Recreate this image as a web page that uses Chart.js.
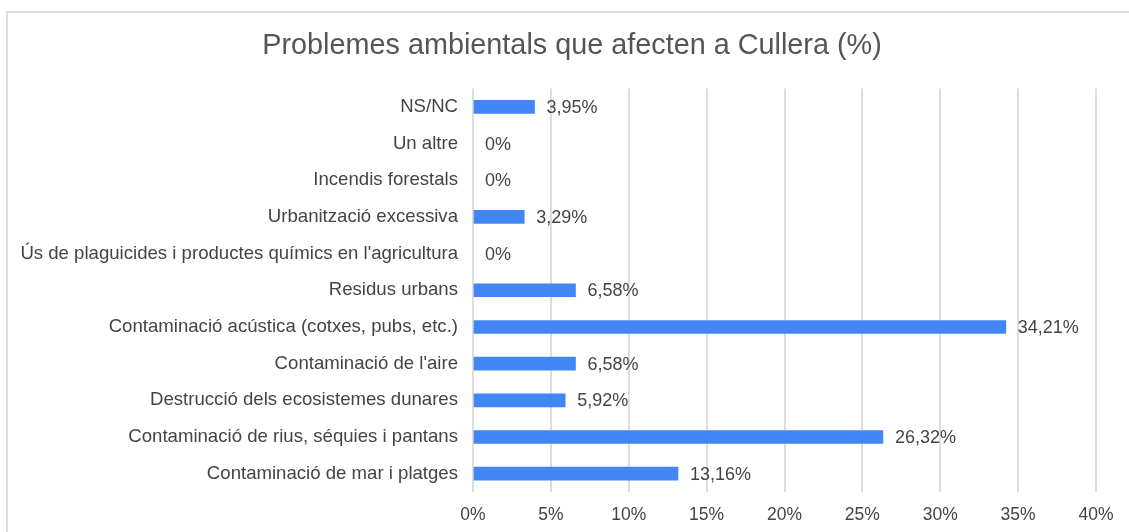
<!DOCTYPE html>
<html>
<head>
<meta charset="utf-8">
<script src="https://cdn.jsdelivr.net/npm/chart.js@4.4.1/dist/chart.umd.min.js"></script>
<style>
  html, body { margin: 0; padding: 0; background: #fff; overflow: hidden; }
  #frame { position: absolute; left: 6px; top: 11px; width: 1200px; height: 600px; border: 2px solid #dddddd; }
  #myChart { position: absolute; left: 0; top: 0; }
</style>
</head>
<body>
<div id="frame"></div>
<canvas id="myChart" width="1129" height="532"></canvas>
<script>
// chart data
var categories = [
  'NS/NC',
  'Un altre',
  'Incendis forestals',
  'Urbanització excessiva',
  "Ús de plaguicides i productes químics en l'agricultura",
  'Residus urbans',
  'Contaminació acústica (cotxes, pubs, etc.)',
  "Contaminació de l'aire",
  'Destrucció dels ecosistemes dunares',
  'Contaminació de rius, séquies i pantans',
  'Contaminació de mar i platges'
];
var values = [3.95, 0, 0, 3.29, 0, 6.58, 34.21, 6.58, 5.92, 26.32, 13.16];
var xTicks = [0, 5, 10, 15, 20, 25, 30, 35, 40];

var textColor = '#444444';
var fontFamily = '"Liberation Sans", Arial, sans-serif';

function fmt(v) {
  if (v === 0) return '0%';
  return v.toFixed(2).replace('.', ',') + '%';
}

// value labels at the end of each bar
var valueLabels = {
  id: 'valueLabels',
  afterDatasetsDraw: function (chart) {
    var ctx = chart.ctx;
    var meta = chart.getDatasetMeta(0);
    ctx.save();
    ctx.font = '18px ' + fontFamily;
    ctx.fillStyle = textColor;
    ctx.textAlign = 'left';
    ctx.textBaseline = 'middle';
    meta.data.forEach(function (bar, i) {
      ctx.fillText(fmt(values[i]), bar.x + 12, bar.y + 1);
    });
    ctx.restore();
  }
};

// title is centred on the whole frame, not on the padded area
var shiftTitle = {
  id: 'shiftTitle',
  afterLayout: function (chart) {
    var t = chart.titleBlock;
    if (t) { t.left += 24; t.right += 24; }
  }
};

var ctx = document.getElementById('myChart').getContext('2d');
new Chart(ctx, {
  type: 'bar',
  data: {
    labels: categories,
    datasets: [{
      label: 'Problemes',
      data: values,
      backgroundColor: values.map(function (v) { return v === 0 ? 'rgba(0,0,0,0)' : '#4285f4'; }),
      borderWidth: 0,
      barThickness: 13
    }]
  },
  options: {
    indexAxis: 'y',
    responsive: false,
    animation: false,
    layout: { padding: { top: 0, right: 33, bottom: 0, left: 0 } },
    plugins: {
      legend: { display: false },
      tooltip: { enabled: false },
      title: {
        display: true,
        text: 'Problemes ambientals que afecten a Cullera (%)',
        color: '#555555',
        font: { family: fontFamily, size: 28.8, weight: 'normal' },
        padding: { top: 29, bottom: 25 }
      }
    },
    scales: {
      x: {
        min: 0,
        max: 40,
        afterBuildTicks: function (s) {
          s.ticks = xTicks.map(function (v) { return { value: v }; });
        },
        afterFit: function (s) { s.height = 40; },
        border: { display: false },
        grid: { color: '#dddddd', lineWidth: 2, drawTicks: false },
        ticks: {
          padding: 13,
          color: textColor,
          font: { family: fontFamily, size: 17.5 },
          callback: function (v) { return v + '%'; }
        }
      },
      y: {
        afterFit: function (s) { s.width = 473; },
        border: { display: false },
        grid: { display: false, drawTicks: false },
        ticks: {
          padding: 15,
          color: textColor,
          font: { family: fontFamily, size: 18.6 }
        }
      }
    }
  },
  plugins: [valueLabels, shiftTitle]
});
</script>
</body>
</html>
